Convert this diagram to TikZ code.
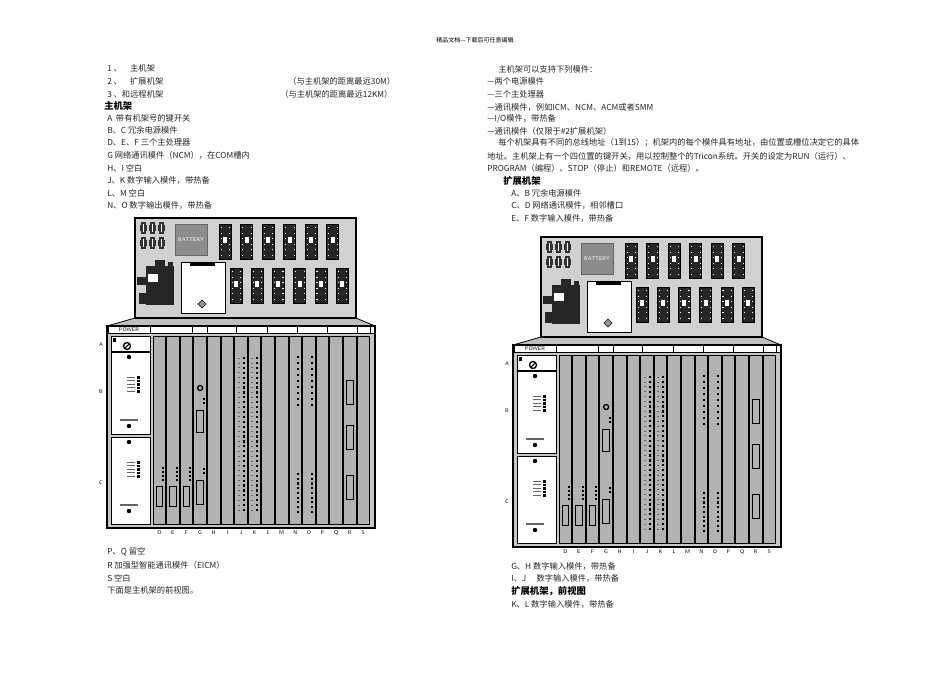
\documentclass[tikz,border=0pt]{standalone}
\usepackage{fontspec}
\setmainfont{Noto Sans CJK SC}
\begin{document}
\begin{tikzpicture}[x=0.75pt,y=-0.75pt,
  txt/.style={anchor=west,inner sep=0pt,font=\fontsize{6.2}{7}\selectfont,text=black!85},
  hd/.style={anchor=west,inner sep=0pt,font=\fontsize{7}{8}\selectfont\bfseries},
  lbl/.style={inner sep=0pt,font=\fontsize{4}{5}\selectfont\sffamily},
  term/.style={fill=black!85,draw=black},
  wmod/.style={fill=white,draw=black,line width=0.5pt},
  gmod/.style={fill=black!30,draw=black,line width=0.5pt}]
\useasboundingbox (0,0) rectangle (950,672);
\fill[white] (0,0) rectangle (950,672);
\node[inner sep=0pt,font=\fontsize{4.5}{5}\selectfont] (hdr) at (475,40) {精品文档---下载后可任意编辑};
% left column text
\node[txt] (t1) at (107,68) {1 、\quad 主机架};
\node[txt] (t2) at (107,81) {2 、\quad 扩展机架};
\node[txt] (t2b) at (288,81) {（与主机架的距离最远30M）};
\node[txt] (t3) at (107,94) {3 、和远程机架};
\node[txt] (t3b) at (280,94) {（与主机架的距离最远12KM）};
\node[hd] (h1) at (104,106) {主机架};
\node[txt] (a1) at (107,118) {A\ \ 带有机架号的键开关};
\node[txt] (a2) at (107,130) {B、C 冗余电源模件};
\node[txt] (a3) at (107,142) {D、E、F 三个主处理器};
\node[txt] (a4) at (107,155) {G 网络通讯模件（NCM），在COM槽内};
\node[txt] (a5) at (107,168) {H、I 空白};
\node[txt] (a6) at (107,180) {J、K 数字输入模件，带热备};
\node[txt] (a7) at (107,193) {L、M 空白};
\node[txt] (a8) at (107,205) {N、O 数字输出模件，带热备};
\node[txt] (b1) at (107,552) {P、Q 留空};
\node[txt] (b2) at (107,565) {R 加强型智能通讯模件（EICM）};
\node[txt] (b3) at (107,578) {S 空白};
\node[txt] (b4) at (107,590) {下面是主机架的前视图。};
% right column text
\node[txt] (r1) at (498,69) {主机架可以支持下列模件：};
\node[txt] (r2) at (487,81) {—两个电源模件};
\node[txt] (r3) at (487,94) {—三个主处理器};
\node[txt] (r4) at (487,107) {—通讯模件，例如ICM、NCM、ACM或者SMM};
\node[txt] (r5) at (487,119) {—I/O模件，带热备};
\node[txt] (r6) at (487,131) {—通讯模件（仅限于\#2扩展机架）};
\node[txt] (r7) at (498,143) {每个机架具有不同的总线地址（1到15）；机架内的每个模件具有地址，由位置或槽位决定它的具体};
\node[txt] (r8) at (487,156) {地址。主机架上有一个四位置的键开关，用以控制整个的Tricon系统。开关的设定为RUN（运行）、};
\node[txt] (r9) at (487,168) {PROGRAM（编程）、STOP（停止）和REMOTE（远程）。};
\node[hd] (h2) at (503,181) {扩展机架};
\node[txt] (r10) at (511,193) {A、B 冗余电源模件};
\node[txt] (r11) at (511,205) {C、D 网络通讯模件，相邻槽口};
\node[txt] (r12) at (511,218) {E、F 数字输入模件，带热备};
\node[txt] (r13) at (511,566) {G、H 数字输入模件，带热备};
\node[txt] (r14) at (511,578) {I、J\quad\ 数字输入模件，带热备};
\node[hd] (h3) at (511,591) {扩展机架，前视图};
\node[txt] (r15) at (511,604) {K、L 数字输入模件，带热备};
% racks
\foreach \dx/\dy in {0/0,406/19}{
\begin{scope}[shift={(\dx,\dy)}]
 % back panel
 \fill[black!25] (107,326) -- (135,318) -- (356,318) -- (375,326) -- cycle;
 \draw[line width=0.6pt] (107,326) -- (135,318) (356,318) -- (375,326);
 \draw[fill=black!18,line width=0.8pt] (135,218) rectangle (356,318);
 \foreach \i in {0,1,2}{ \foreach \j in {0,1}{
   \fill[black!80] (141+\i*9,222+\j*15) rectangle ++(5,12);
   \fill[black!80] (140+\i*9,225+\j*15) rectangle ++(7,6);
   \draw[white,line width=0.3pt] (143.5+\i*9,224+\j*15) -- ++(0,8);}}
 \draw[fill=black!45,draw=black!60] (175,224) rectangle (207,255);
 \node[lbl,text=white] at (191,239.5) {BATTERY};
 \foreach \i in {0,...,5}{
   \fill[term] (219+\i*21.5,224) rectangle ++(12,35);
   \fill[white] (223+\i*21.5,237) rectangle ++(4,6);
   \foreach \k in {0,...,5}{\fill[white] (220.5+\i*21.5,227+\k*5.5) rectangle ++(1.2,1.2); \fill[white] (229+\i*21.5,227+\k*5.5) rectangle ++(1.2,1.2);}
   \fill[term] (230+\i*21.2,268) rectangle ++(12,35);
   \fill[white] (234+\i*21.2,281) rectangle ++(4,6);
   \foreach \k in {0,...,5}{\fill[white] (231.5+\i*21.2,271+\k*5.5) rectangle ++(1.2,1.2); \fill[white] (240+\i*21.2,271+\k*5.5) rectangle ++(1.2,1.2);}
 }
 \fill[black!85] (146,266) rectangle (174,305);
 \fill[black!85] (155,260) rectangle (165,268);
 \fill[black!85] (168,262) rectangle (173,266);
 \fill[black!85] (137,277) rectangle (147,285);
 \fill[black!85] (139,293) rectangle (150,304);
 \fill[white] (148,274) rectangle (158,282);
 \draw[fill=white,line width=0.6pt] (181,262) rectangle (225,313);
 \fill[black] (190,263) rectangle (215,266);
 \draw[fill=black!40] (198,304) -- (202,300) -- (206,304) -- (202,308) -- cycle;
 % chassis
 \draw[fill=black!22,line width=1.2pt] (107,326) rectangle (375,528);
 \draw[fill=white,line width=0.4pt] (108,326) rectangle (374,333);
 \foreach \x in {150,192,207,236,267,297,327,357,370}{\draw[line width=0.4pt] (\x,326) -- (\x,333);}
 \node[lbl] at (129,329.5) {POWER};
 % power modules
 \draw[wmod] (111,336) rectangle (150,351);
 \draw[line width=1pt] (127,346) circle (3.5);
 \draw[line width=0.8pt] (125,348) -- (129,344);
 \fill[black] (113,338) rectangle (116,342);
 \draw[wmod] (111,352) rectangle (150,434);
 \draw[wmod] (111,437) rectangle (150,524);
 \foreach \y in {354,439}{
   \fill[black] (129,\y+3) circle (2.2);
   \foreach \k in {0,...,4}{\fill[black] (137,\y+22+\k*3.5) rectangle ++(2.5,2.5);
      \fill[black!60] (127,\y+22.8+\k*3.5) rectangle ++(8,0.8);}
   \fill[black!60] (120,\y+65) rectangle ++(18,1.5);
   \fill[black] (129,\y+72) circle (2.2);
 }
 % slots
 \foreach \s/\t in {0/w,1/w,2/w,3/w,4/g,5/g,6/w,7/w,8/g,9/g,10/w,11/w,12/g,13/g,14/w,15/g}{
   \pgfmathsetmacro\xa{153+\s*13.6}
   \ifx\t w
     \draw[wmod] (\xa,336) rectangle ++(12.6,188);
     \fill[black] (\xa+6.3,341) circle (1.8);
     \foreach \k in {0,1,2}{\fill[black] (\xa+9,346+\k*4) rectangle ++(2.2,2.2);}
     \fill[black] (\xa+6.3,519) circle (1.8);
   \else
     \draw[gmod] (\xa,336) rectangle ++(12.6,188);
   \fi
 }
 % processor detail D,E,F
 \foreach \s in {0,1,2}{
   \pgfmathsetmacro\xa{153+\s*13.6}
   \foreach \k in {0,...,3}{\fill[black] (\xa+9,467+\k*4) rectangle ++(2.2,2.2);}
   \draw[line width=0.6pt] (\xa+3,486) rectangle ++(6.5,20);
 }
 % NCM G
 \pgfmathsetmacro\xg{153+3*13.6}
 \draw[line width=1pt] (\xg+6.3,388) circle (2.5);
 \draw[line width=0.6pt] (\xg+3,410) rectangle ++(6.5,22);
 \draw[line width=0.6pt] (\xg+3,480) rectangle ++(6.5,24);
 \foreach \k in {0,1}{\fill[black] (\xg+9,398+\k*4) rectangle ++(2,2);\fill[black] (\xg+9,468+\k*4) rectangle ++(2,2);}
 % J,K input LEDs
 \foreach \s in {6,7}{
   \pgfmathsetmacro\xa{153+\s*13.6}
   \foreach \k in {0,...,31}{\fill[black] (\xa+8,357+\k*4.9) rectangle ++(2.2,2.2);\fill[black!60] (\xa+3,357.6+\k*4.9) rectangle ++(2,1);}
 }
 % N,O output LEDs
 \foreach \s in {10,11}{
   \pgfmathsetmacro\xa{153+\s*13.6}
   \foreach \k in {0,...,8}{\fill[black] (\xa+8,356+\k*6) rectangle ++(2.2,2.2);}
   \foreach \k in {0,...,8}{\fill[black] (\xa+8,473+\k*4.7) rectangle ++(2.2,2.2);}
 }
 % R EICM
 \pgfmathsetmacro\xr{153+14*13.6}
 \foreach \y in {380,425,475}{\draw[line width=0.6pt] (\xr+3,\y) rectangle ++(6.5,24);}
 % labels
 \foreach \l [count=\n from 0] in {D,E,F,G,H,I,J,K,L,M,N,O,P,Q,R,S}{
   \node[lbl] at (159.3+\n*13.6,533) {\l};}
 \node[lbl] at (101,345) {A};
 \node[lbl] at (101,392) {B};
 \node[lbl] at (101,483) {C};
\end{scope}}
\end{tikzpicture}
\end{document}
